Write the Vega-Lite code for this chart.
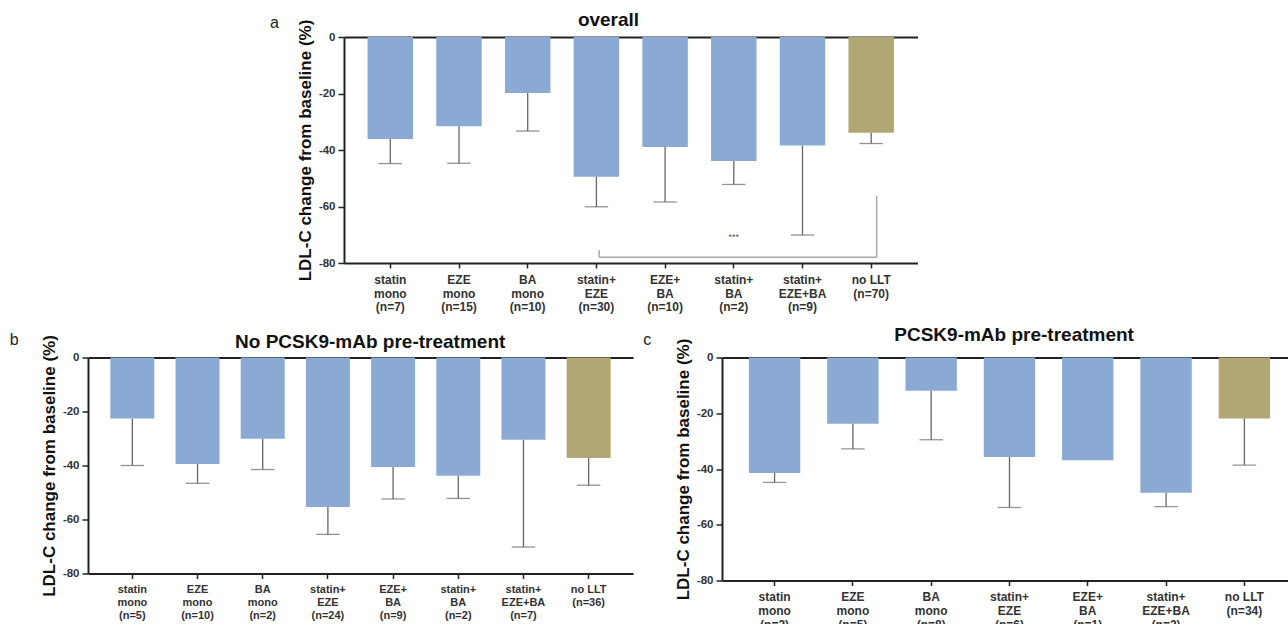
{
  "$schema": "https://vega.github.io/schema/vega-lite/v6.json",
  "padding": {"left": 9, "top": 10, "right": 0, "bottom": 0},
  "background": "white",
  "config": {
    "view": {"stroke": null},
    "font": "Liberation Sans",
    "axis": {
      "grid": false,
      "domainColor": "#222",
      "domainWidth": 2,
      "tickColor": "#222",
      "tickWidth": 1.5,
      "labelFont": "Liberation Sans",
      "labelFontWeight": "bold",
      "labelColor": "#333",
      "titleFont": "Liberation Sans",
      "titleColor": "#111"
    },
    "title": {"font": "Liberation Sans", "fontWeight": "normal", "fontSize": 16, "color": "#222", "anchor": "start", "frame": "group", "offset": 0}
  },
  "datasets": {
    "a": [
      {"cat": "statin|mono|(n=7)", "grp": "LLT", "mean": -36.1, "err": -44.8},
      {"cat": "EZE|mono|(n=15)", "grp": "LLT", "mean": -31.6, "err": -44.7},
      {"cat": "BA|mono|(n=10)", "grp": "LLT", "mean": -19.8, "err": -33.3},
      {"cat": "statin+|EZE|(n=30)", "grp": "LLT", "mean": -49.5, "err": -60.1},
      {"cat": "EZE+|BA|(n=10)", "grp": "LLT", "mean": -38.9, "err": -58.4},
      {"cat": "statin+|BA|(n=2)", "grp": "LLT", "mean": -43.9, "err": -52.2},
      {"cat": "statin+|EZE+BA|(n=9)", "grp": "LLT", "mean": -38.4, "err": -70.1},
      {"cat": "no LLT|(n=70)", "grp": "none", "mean": -33.9, "err": -37.7}
    ],
    "bracketA": [
      {"from": "statin+|EZE|(n=30)", "to": "no LLT|(n=70)", "y": -78, "yFrom": -75.5, "yTo": -56.2}
    ],
    "starsA": [
      {"cat": "statin+|BA|(n=2)", "y": -70.7, "label": "***"}
    ],
    "b": [
      {"cat": "statin|mono|(n=5)", "grp": "LLT", "mean": -22.6, "err": -40.0},
      {"cat": "EZE|mono|(n=10)", "grp": "LLT", "mean": -39.4, "err": -46.6},
      {"cat": "BA|mono|(n=2)", "grp": "LLT", "mean": -30.1, "err": -41.5},
      {"cat": "statin+|EZE|(n=24)", "grp": "LLT", "mean": -55.4, "err": -65.5},
      {"cat": "EZE+|BA|(n=9)", "grp": "LLT", "mean": -40.6, "err": -52.4},
      {"cat": "statin+|BA|(n=2)", "grp": "LLT", "mean": -43.8, "err": -52.2},
      {"cat": "statin+|EZE+BA|(n=7)", "grp": "LLT", "mean": -30.5, "err": -70.2},
      {"cat": "no LLT|(n=36)", "grp": "none", "mean": -37.2, "err": -47.3}
    ],
    "c": [
      {"cat": "statin|mono|(n=2)", "grp": "LLT", "mean": -41.4, "err": -44.8},
      {"cat": "EZE|mono|(n=5)", "grp": "LLT", "mean": -23.8, "err": -32.8},
      {"cat": "BA|mono|(n=8)", "grp": "LLT", "mean": -11.9, "err": -29.5},
      {"cat": "statin+|EZE|(n=6)", "grp": "LLT", "mean": -35.7, "err": -53.8},
      {"cat": "EZE+|BA|(n=1)", "grp": "LLT", "mean": -36.9, "err": null},
      {"cat": "statin+|EZE+BA|(n=2)", "grp": "LLT", "mean": -48.5, "err": -53.5},
      {"cat": "no LLT|(n=34)", "grp": "none", "mean": -21.9, "err": -38.6}
    ]
  },
  "spacing": 12.5,
  "vconcat": [
    {
      "spacing": 20,
      "hconcat": [
        {
          "width": 161.7,
          "height": 10,
          "data": {"values": []},
          "mark": {"type": "point", "opacity": 0}
        },
        {
          "width": 573.5,
          "height": 226,
          "title": {"text": "a", "dx": -74, "dy": 24.5},
          "data": {"name": "a"},
          "layer": [
            {
              "mark": {"type": "bar"},
              "encoding": {
                "x": {
                  "field": "cat", "type": "nominal", "sort": null,
                  "scale": {"domain": ["statin|mono|(n=7)", "EZE|mono|(n=15)", "BA|mono|(n=10)", "statin+|EZE|(n=30)", "EZE+|BA|(n=10)", "statin+|BA|(n=2)", "statin+|EZE+BA|(n=9)", "no LLT|(n=70)"], "paddingInner": 0.338, "paddingOuter": 0.343},
                  "axis": {"orient": "bottom", "title": null, "labelAngle": 0, "labelExpr": "split(datum.label, '|')", "labelFontSize": 12, "labelLineHeight": 13.5, "labelPadding": 6.5, "tickSize": 5}
                },
                "y": {
                  "field": "mean", "type": "quantitative",
                  "scale": {"domain": [-80, 0], "nice": false},
                  "axis": {"title": "LDL-C change from baseline (%)", "values": [0, -20, -40, -60, -80], "labelExpr": "'' + datum.value", "labelFontSize": 11.5, "labelPadding": 3, "tickSize": 6, "titleFontSize": 17, "titleFontWeight": "bold", "titlePadding": 4}
                },
                "color": {"field": "grp", "type": "nominal", "scale": {"domain": ["LLT", "none"], "range": ["#8aaad3", "#b1a774"]}, "legend": null}
              }
            },
            {
              "transform": [{"filter": "datum.err != null"}],
              "mark": {"type": "rule", "color": "#666", "strokeWidth": 1.3},
              "encoding": {
                "x": {"field": "cat", "type": "nominal", "sort": null,
                  "axis": {"orient": "top", "domain": true, "ticks": false, "labels": false, "title": "overall", "titleFontSize": 19, "titleFontWeight": "bold", "titleX": 264, "titleY": -18, "titleAlign": "center", "titleBaseline": "middle"}},
                "y": {"field": "mean", "type": "quantitative"},
                "y2": {"field": "err"}
              }
            },
            {
              "transform": [{"filter": "datum.err != null"}],
              "mark": {"type": "tick", "color": "#666", "thickness": 1.3, "size": 23.5},
              "encoding": {
                "x": {"field": "cat", "type": "nominal", "sort": null, "axis": null},
                "y": {"field": "err", "type": "quantitative"}
              }
            },
            {
              "data": {"name": "bracketA"},
              "mark": {"type": "rule", "color": "#a8a8a8", "strokeWidth": 1.5},
              "encoding": {
                "x": {"field": "from", "type": "nominal", "axis": null, "bandPosition": 0.56},
                "x2": {"field": "to", "bandPosition": 0.62},
                "y": {"field": "y", "type": "quantitative"}
              }
            },
            {
              "data": {"name": "bracketA"},
              "mark": {"type": "rule", "color": "#a8a8a8", "strokeWidth": 1.5},
              "encoding": {
                "x": {"field": "from", "type": "nominal", "axis": null, "bandPosition": 0.56},
                "y": {"field": "yFrom", "type": "quantitative"},
                "y2": {"field": "y"}
              }
            },
            {
              "data": {"name": "bracketA"},
              "mark": {"type": "rule", "color": "#a8a8a8", "strokeWidth": 1.5},
              "encoding": {
                "x": {"field": "to", "type": "nominal", "axis": null, "bandPosition": 0.62},
                "y": {"field": "yTo", "type": "quantitative"},
                "y2": {"field": "y"}
              }
            },
            {
              "data": {"name": "starsA"},
              "mark": {"type": "text", "color": "#555", "fontSize": 9, "baseline": "middle", "align": "center"},
              "encoding": {
                "x": {"field": "cat", "type": "nominal", "axis": null},
                "y": {"field": "y", "type": "quantitative"},
                "text": {"field": "label"}
              }
            }
          ],
          "resolve": {"axis": {"x": "independent"}}
        }
      ]
    },
    {
      "spacing": 10,
      "hconcat": [
        {
          "width": 545,
          "height": 216,
          "title": {"text": "b", "dx": -78.3, "dy": 19},
          "data": {"name": "b"},
          "layer": [
            {
              "mark": {"type": "bar"},
              "encoding": {
                "x": {
                  "field": "cat", "type": "nominal", "sort": null,
                  "scale": {"paddingInner": 0.325, "paddingOuter": 0.343},
                  "axis": {"orient": "bottom", "title": null, "labelAngle": 0, "labelExpr": "split(datum.label, '|')", "labelFontSize": 11, "labelLineHeight": 13.3, "labelPadding": 4.5, "tickSize": 5}
                },
                "y": {
                  "field": "mean", "type": "quantitative",
                  "scale": {"domain": [-80, 0], "nice": false},
                  "axis": {"title": "LDL-C change from baseline (%)", "values": [0, -20, -40, -60, -80], "labelExpr": "'' + datum.value", "labelFontSize": 11.5, "labelPadding": 3, "tickSize": 6, "titleFontSize": 17, "titleFontWeight": "bold", "titlePadding": 4}
                },
                "color": {"field": "grp", "type": "nominal", "scale": {"domain": ["LLT", "none"], "range": ["#8aaad3", "#b1a774"]}, "legend": null}
              }
            },
            {
              "transform": [{"filter": "datum.err != null"}],
              "mark": {"type": "rule", "color": "#666", "strokeWidth": 1.3},
              "encoding": {
                "x": {"field": "cat", "type": "nominal", "sort": null,
                  "axis": {"orient": "top", "domain": true, "ticks": false, "labels": false, "title": "No PCSK9-mAb pre-treatment", "titleFontSize": 19, "titleFontWeight": "bold", "titleX": 281.7, "titleY": -16, "titleAlign": "center", "titleBaseline": "middle"}},
                "y": {"field": "mean", "type": "quantitative"},
                "y2": {"field": "err"}
              }
            },
            {
              "transform": [{"filter": "datum.err != null"}],
              "mark": {"type": "tick", "color": "#666", "thickness": 1.3, "size": 23.5},
              "encoding": {
                "x": {"field": "cat", "type": "nominal", "sort": null, "axis": null},
                "y": {"field": "err", "type": "quantitative"}
              }
            }
          ],
          "resolve": {"axis": {"x": "independent"}}
        },
        {
          "width": 566,
          "height": 223,
          "title": {"text": "c", "dx": -78.7, "dy": 26},
          "data": {"name": "c"},
          "layer": [
            {
              "mark": {"type": "bar"},
              "encoding": {
                "x": {
                  "field": "cat", "type": "nominal", "sort": null,
                  "scale": {"paddingInner": 0.3436, "paddingOuter": 0.286, "align": 0.6},
                  "axis": {"orient": "bottom", "title": null, "labelAngle": 0, "labelExpr": "split(datum.label, '|')", "labelFontSize": 12, "labelLineHeight": 14, "labelPadding": 5.5, "tickSize": 5}
                },
                "y": {
                  "field": "mean", "type": "quantitative",
                  "scale": {"domain": [-80, 0], "nice": false},
                  "axis": {"title": "LDL-C change from baseline (%)", "values": [0, -20, -40, -60, -80], "labelExpr": "'' + datum.value", "labelFontSize": 11.5, "labelPadding": 3, "tickSize": 6, "titleFontSize": 17, "titleFontWeight": "bold", "titlePadding": 4}
                },
                "color": {"field": "grp", "type": "nominal", "scale": {"domain": ["LLT", "none"], "range": ["#8aaad3", "#b1a774"]}, "legend": null}
              }
            },
            {
              "transform": [{"filter": "datum.err != null"}],
              "mark": {"type": "rule", "color": "#666", "strokeWidth": 1.3},
              "encoding": {
                "x": {"field": "cat", "type": "nominal", "sort": null,
                  "axis": {"orient": "top", "domain": true, "ticks": false, "labels": false, "title": "PCSK9-mAb pre-treatment", "titleFontSize": 19, "titleFontWeight": "bold", "titleX": 291.6, "titleY": -22.7, "titleAlign": "center", "titleBaseline": "middle"}},
                "y": {"field": "mean", "type": "quantitative"},
                "y2": {"field": "err"}
              }
            },
            {
              "transform": [{"filter": "datum.err != null"}],
              "mark": {"type": "tick", "color": "#666", "thickness": 1.3, "size": 23.5},
              "encoding": {
                "x": {"field": "cat", "type": "nominal", "sort": null, "axis": null},
                "y": {"field": "err", "type": "quantitative"}
              }
            }
          ],
          "resolve": {"axis": {"x": "independent"}}
        }
      ]
    }
  ]
}
